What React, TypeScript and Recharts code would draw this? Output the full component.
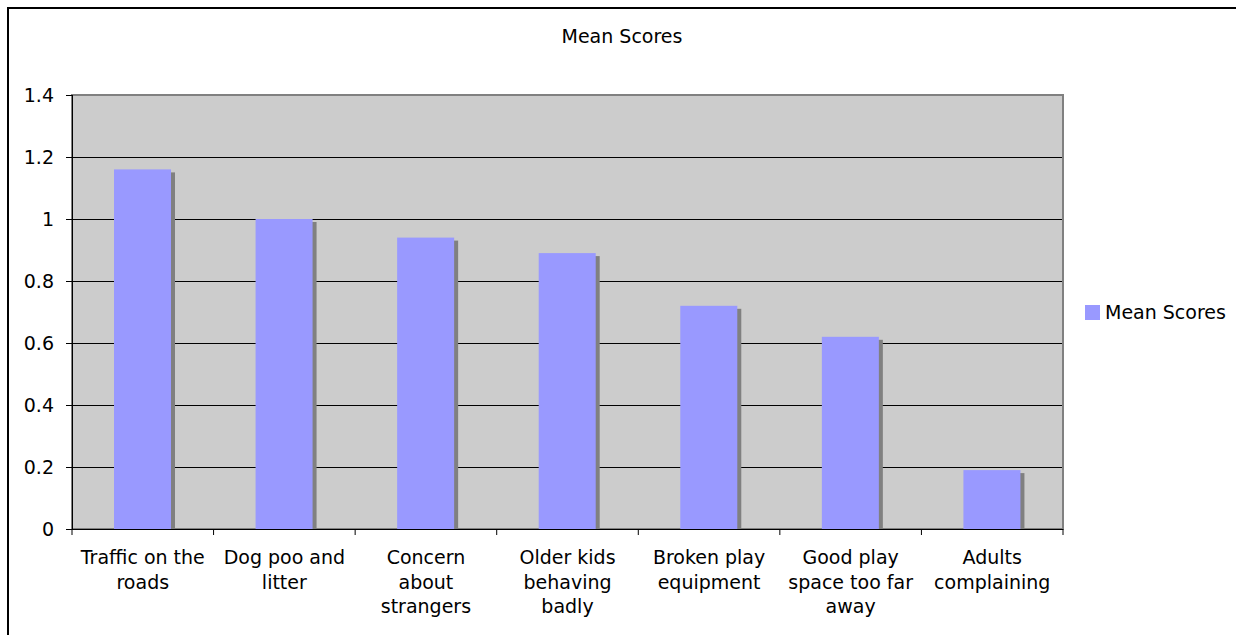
import React from "react";
import {
  BarChart,
  Bar,
  XAxis,
  YAxis,
  CartesianGrid,
  ReferenceArea,
} from "recharts";

const CATEGORIES = [
  "Traffic on the\nroads",
  "Dog poo and\nlitter",
  "Concern\nabout\nstrangers",
  "Older kids\nbehaving\nbadly",
  "Broken play\nequipment",
  "Good play\nspace too far\naway",
  "Adults\ncomplaining",
];
const MEAN_SCORES = [1.16, 1.0, 0.94, 0.89, 0.72, 0.62, 0.19];
const Y_TICKS = [0, 0.2, 0.4, 0.6, 0.8, 1, 1.2, 1.4];
const SERIES_NAME = "Mean Scores";
const TITLE = "Mean Scores";

const FONT = 'Verdana, "DejaVu Sans", sans-serif';
const FS = 19;
const CHART_W = 1227;
const CHART_H = 626;
const MARGIN = { top: 86, right: 173, bottom: 6, left: 13 };
const Y_AXIS_W = 50;
const BAND = (CHART_W - MARGIN.left - MARGIN.right - Y_AXIS_W) / CATEGORIES.length;

const data = CATEGORIES.map((c, i) => ({ category: c, value: MEAN_SCORES[i] }));

// Excel-style tick: marks at category boundaries, wrapped label in the middle
const CategoryTick = (props: any) => {
  const { x, y, payload, index } = props;
  const lines = String(payload.value).split("\n");
  return (
    <g>
      <line x1={x - BAND / 2} x2={x - BAND / 2} y1={y} y2={y + 6} stroke="#000" />
      {index === CATEGORIES.length - 1 && (
        <line x1={x + BAND / 2} x2={x + BAND / 2} y1={y} y2={y + 6} stroke="#000" />
      )}
      <text x={x} y={y + 35} textAnchor="middle" fill="#000" fontSize={FS} fontFamily={FONT}>
        {lines.map((l, i) => (
          <tspan key={i} x={x} dy={i === 0 ? 0 : 24.5}>
            {l}
          </tspan>
        ))}
      </text>
    </g>
  );
};

const ShadowBar = (props: any) => {
  const { x, y, width, height } = props;
  return (
    <g>
      <rect x={x + 4} y={y + 3} width={width} height={Math.max(height - 3, 0)} fill="#808080" />
      <rect x={x} y={y} width={width} height={height} fill="#9999ff" />
    </g>
  );
};

export default function App() {
  return (
    <div
      style={{
        position: "absolute",
        left: 7,
        top: 7,
        width: 1229,
        height: 628,
        boxSizing: "border-box",
        borderTop: "2px solid #000",
        borderLeft: "2px solid #000",
        background: "#fff",
        overflow: "hidden",
      }}
    >
      <div
        style={{
          position: "absolute",
          left: 0,
          top: 16,
          width: 1226,
          textAlign: "center",
          fontFamily: FONT,
          fontSize: FS,
          lineHeight: "22px",
          color: "#000",
        }}
      >
        {TITLE}
      </div>
      <div
        style={{
          position: "absolute",
          left: 1076,
          top: 291,
          display: "flex",
          alignItems: "center",
          fontFamily: FONT,
          fontSize: FS,
          lineHeight: "24px",
          color: "#000",
          whiteSpace: "nowrap",
        }}
      >
        <span style={{ width: 15, height: 15, background: "#9999ff", marginRight: 5 }} />
        <span>{SERIES_NAME}</span>
      </div>
      <BarChart width={CHART_W} height={CHART_H} data={data} margin={MARGIN}>
        <CartesianGrid
          vertical={false}
          stroke="#000"
          fill="#cccccc"
          fillOpacity={1}
          shapeRendering="crispEdges"
        />
        <ReferenceArea y1={0} y2={1.4} fill="none" stroke="#808080" strokeWidth={2} />
        <XAxis
          dataKey="category"
          interval={0}
          tickLine={false}
          tickSize={0}
          tickMargin={0}
          height={100}
          axisLine={{ stroke: "#000", shapeRendering: "crispEdges" }}
          tick={<CategoryTick />}
        />
        <YAxis
          width={Y_AXIS_W}
          domain={[0, 1.4]}
          ticks={Y_TICKS}
          interval={0}
          tickSize={6}
          tickMargin={12}
          axisLine={{ stroke: "#000", shapeRendering: "crispEdges" }}
          tickLine={{ stroke: "#000", shapeRendering: "crispEdges" }}
          tick={{ fill: "#000", fontSize: FS, fontFamily: FONT }}
        />
        <Bar
          dataKey="value"
          name={SERIES_NAME}
          barSize={57}
          shape={<ShadowBar />}
          isAnimationActive={false}
        />
      </BarChart>
    </div>
  );
}
